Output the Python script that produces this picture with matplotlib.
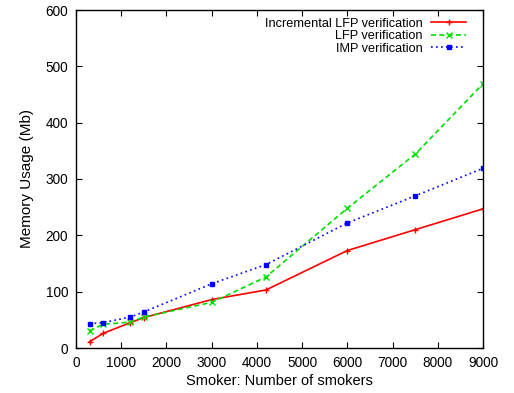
import matplotlib
matplotlib.use("Agg")
import matplotlib.pyplot as plt

smokers = [300, 600, 1200, 1500, 3000, 4200, 6000, 7500, 9000]
incr_lfp = [11, 26, 45, 54, 86, 103, 173, 210, 247]
lfp = [31, 42, 46, 55, 81, 126, 248, 344, 469]
imp = [43, 45, 55, 64, 114, 148, 222, 270, 319]

plt.rcParams['font.family'] = ['Liberation Sans', 'DejaVu Sans']

fig = plt.figure(figsize=(5.14, 3.93), dpi=100)
ax = fig.add_axes([76/514, 45/393, 407/514, 338/393])

ax.plot(smokers, incr_lfp, color='#ff0000', linestyle='-', linewidth=1.2,
        marker='+', markersize=5, label='Incremental LFP verification')
ax.plot(smokers, lfp, color='#00dd00', linestyle=(0, (3, 2)), linewidth=1.2,
        marker='x', markersize=4.5, label='LFP verification')
ax.plot(smokers, imp, color='#0000ff', linestyle=(0, (1, 2)), linewidth=1.2,
        marker='s', markersize=3.5, label='IMP verification')

ax.set_xlim(0, 9000)
ax.set_ylim(0, 600)
ax.set_xticks(range(0, 9001, 1000))
ax.set_yticks(range(0, 601, 100))
ax.tick_params(direction='in', top=True, right=True, length=4, width=0.8,
               labelsize=9.8)
ax.tick_params(axis='x', pad=6)
ax.tick_params(axis='y', pad=5.5)
for s in ax.spines.values():
    s.set_linewidth(1.0)

ax.set_xlabel('Smoker: Number of smokers', fontsize=10.5)
ax.set_ylabel('Memory Usage (Mb)', fontsize=11)
ax.xaxis.label.set_va('center')
ax.yaxis.label.set_va('center')
ax.xaxis.set_label_coords(0.5, -0.0976)
ax.yaxis.set_label_coords(-0.120, 0.5)

ax.legend(loc='upper right', bbox_to_anchor=(0.977, 1.0), frameon=False,
          markerfirst=False, numpoints=1, handlelength=2.7, handletextpad=0.7,
          labelspacing=0.04, fontsize=9.2, borderaxespad=0.2)

fig.savefig('out.png', dpi=100)
